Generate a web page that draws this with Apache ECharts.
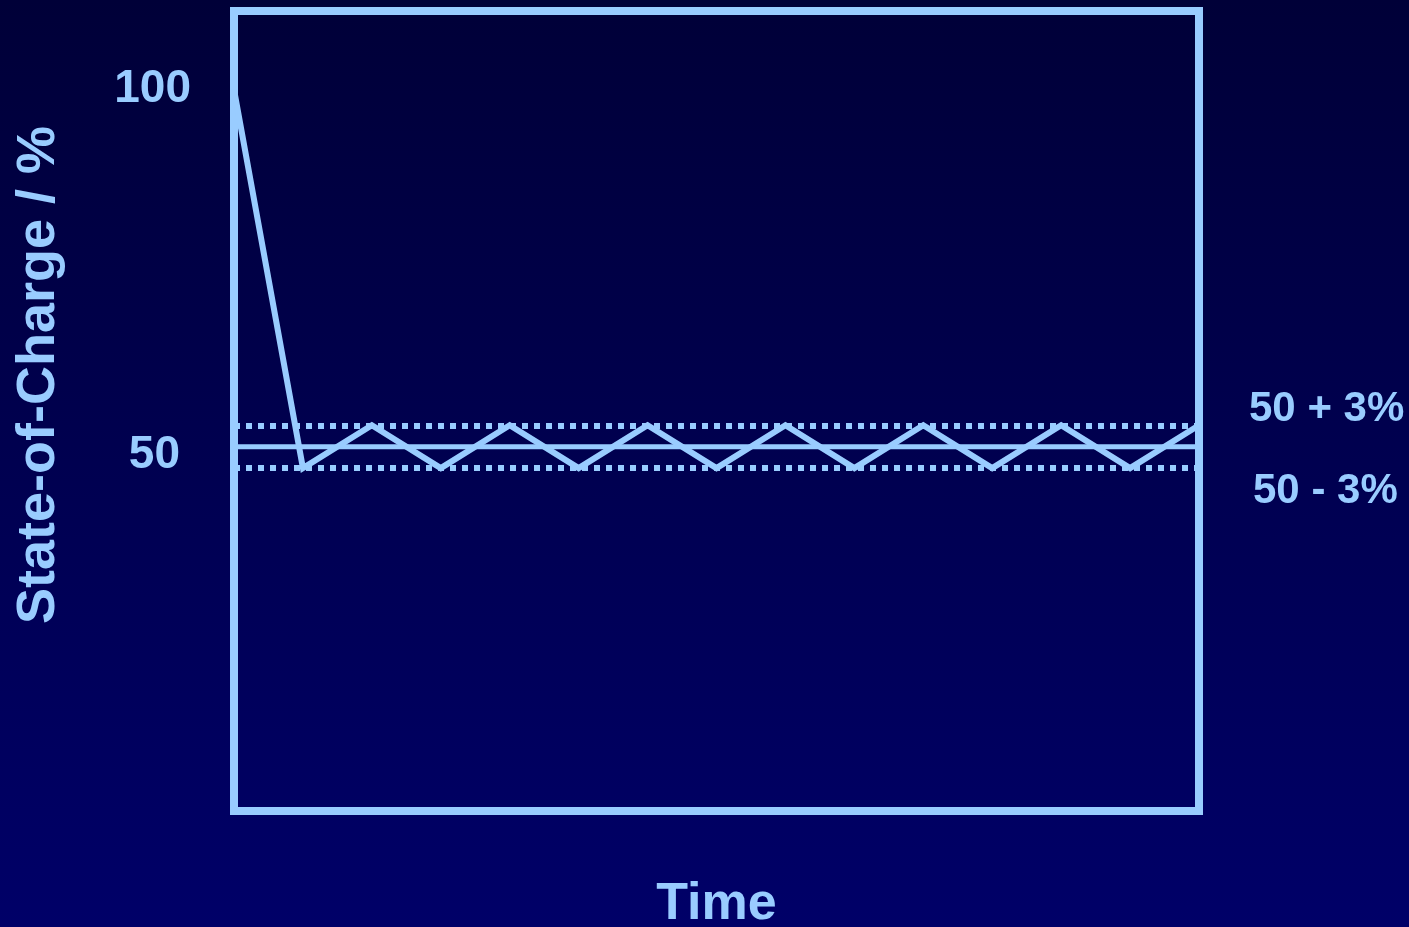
<!DOCTYPE html>
<html>
<head>
<meta charset="utf-8">
<title>State-of-Charge over Time</title>
<script src="https://cdn.jsdelivr.net/npm/echarts@6/dist/echarts.min.js"></script>
<style>
  html, body { margin: 0; padding: 0; width: 100%; height: 100%; overflow: hidden; }
  #chart { width: 1409px; height: 927px; }
</style>
</head>
<body>
<div id="chart"></div>
<script>
// Time steps (arbitrary units) and state-of-charge at each step
const timeSteps = [0, 1, 2, 3, 4, 5, 6, 7, 8, 9, 10, 11, 12, 13, 14];
const stateOfCharge = [100, 47, 53, 47, 53, 47, 53, 47, 53, 47, 53, 47, 53, 47, 53];
// Target level and the tolerance band around it
const targetLevel = 50;
const bandOffset = 3;
const bandLabels = ['50 + 3%', '50 - 3%'];
const yTickValues = [50, 100];

const lineColor = '#99CCFF';
const fontFamily = '"Liberation Sans", Arial, Helvetica, sans-serif';

const chart = echarts.init(document.getElementById('chart'));

const socPoints = timeSteps.map((t, i) => [t, stateOfCharge[i]]);
const tMin = timeSteps[0];
const tMax = timeSteps[timeSteps.length - 1];

const bandTextStyle = { color: lineColor, fontSize: 42, fontWeight: 'bold', fontFamily: fontFamily };

chart.setOption({
  animation: false,
  backgroundColor: {
    type: 'linear', x: 0, y: 0, x2: 0, y2: 1,
    colorStops: [
      { offset: 0, color: '#000038' },
      { offset: 1, color: '#000068' }
    ]
  },
  grid: {
    left: 234, top: 11, right: 210, bottom: 116,
    outerBoundsMode: 'none',
    containLabel: false,
    show: true,
    borderColor: lineColor,
    borderWidth: 8,
    backgroundColor: 'transparent'
  },
  xAxis: {
    type: 'value',
    min: tMin, max: tMax,
    axisLine: { show: false },
    axisTick: { show: false },
    axisLabel: { show: false },
    splitLine: { show: false },
    name: 'Time',
    nameLocation: 'middle',
    nameGap: 68,
    nameTextStyle: {
      color: lineColor, fontSize: 52, fontWeight: 'bold', fontFamily: fontFamily
    }
  },
  yAxis: {
    type: 'value',
    min: -1, max: 111,
    axisLine: { show: false },
    axisTick: { show: false },
    splitLine: { show: false },
    axisLabel: {
      customValues: yTickValues,
      margin: 43,
      formatter: v => (v === 100 ? '{hi|100}' : '{mid|' + v + '}'),
      rich: {
        hi: { color: lineColor, fontSize: 46, fontWeight: 'bold', fontFamily: fontFamily },
        mid: { color: lineColor, fontSize: 46, fontWeight: 'bold', fontFamily: fontFamily,
               padding: [18, 11, 0, 0] }
      }
    },
    name: 'State-of-Charge / %',
    nameLocation: 'middle',
    nameRotate: 90,
    nameGap: 168,
    nameTextStyle: {
      color: lineColor, fontSize: 54, fontWeight: 'bold', fontFamily: fontFamily,
      padding: [0, 0, 0, 72]
    }
  },
  series: [
    {
      // Target level with the tolerance band drawn as dotted lines
      type: 'line',
      data: [[tMin, targetLevel], [tMax, targetLevel]],
      showSymbol: false,
      lineStyle: { color: lineColor, width: 5 },
      z: 2,
      markLine: {
        silent: true,
        symbol: 'none',
        lineStyle: { color: lineColor, width: 6, type: [6, 6], cap: 'butt' },
        label: {
          show: true,
          position: 'end',
          distance: 50,
          rich: {
            up: Object.assign({ padding: [0, 0, 32, 0] }, bandTextStyle),
            down: Object.assign({ padding: [46, 0, 0, 4] }, bandTextStyle)
          }
        },
        data: [
          { yAxis: targetLevel + bandOffset,
            label: { formatter: '{up|' + bandLabels[0] + '}' } },
          { yAxis: targetLevel - bandOffset,
            label: { formatter: '{down|' + bandLabels[1] + '}' } }
        ]
      }
    },
    {
      // State-of-charge trace
      type: 'line',
      data: socPoints,
      showSymbol: false,
      lineStyle: { color: lineColor, width: 6, join: 'miter' },
      z: 3
    }
  ]
});
</script>
</body>
</html>
